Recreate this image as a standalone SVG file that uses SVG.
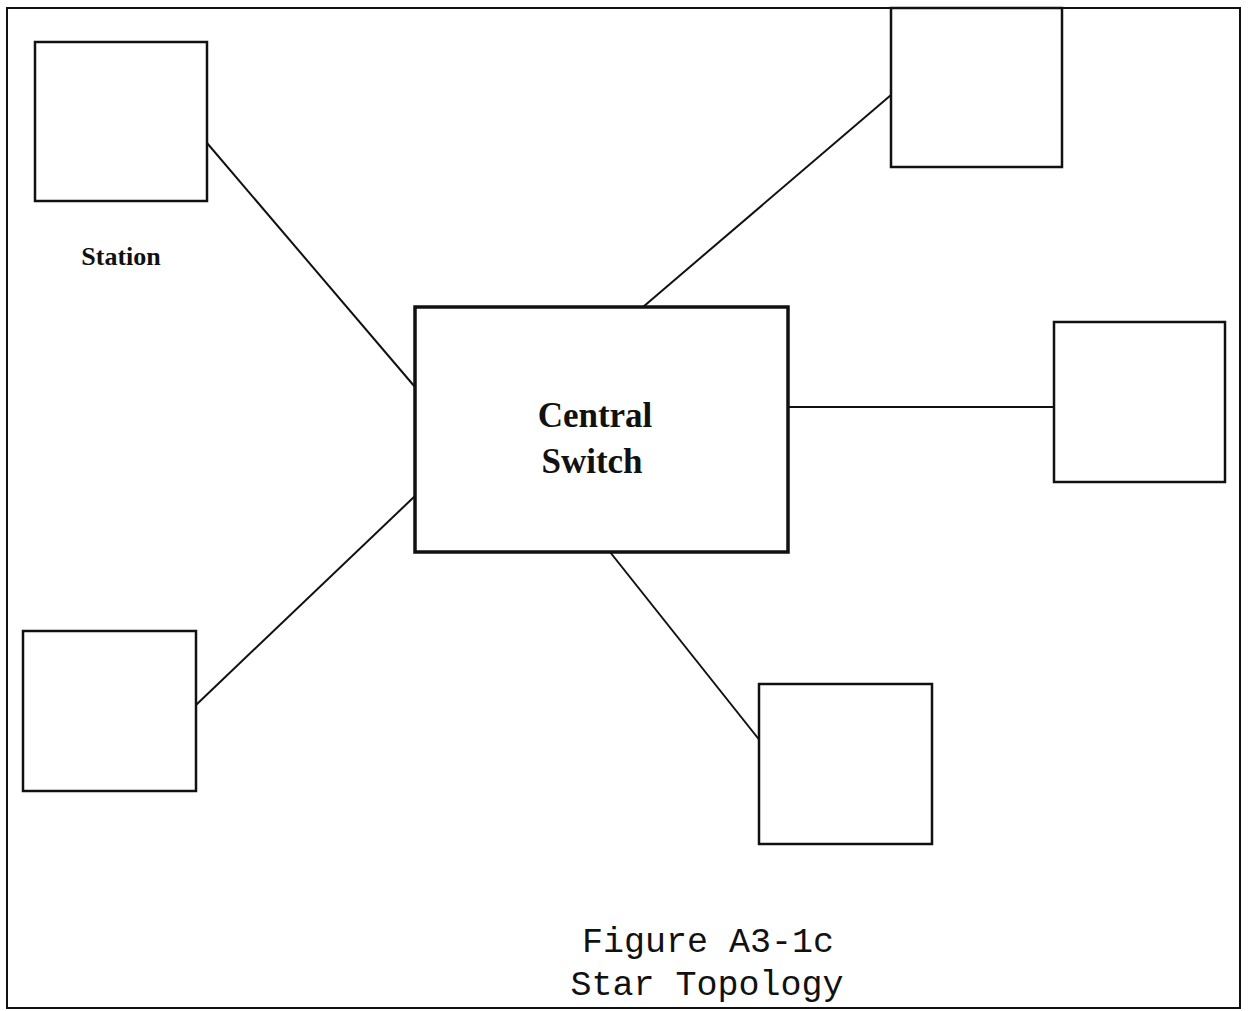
<svg xmlns="http://www.w3.org/2000/svg" width="1250" height="1011" viewBox="0 0 1250 1011">
<style>
.box{fill:#fff;stroke:#111;stroke-width:2.5}
.sw{fill:#fff;stroke:#111;stroke-width:3.5}
.ln{stroke:#111;stroke-width:2;fill:none}
.lbl{font-family:"Liberation Serif",serif;font-weight:bold;fill:#111;text-anchor:middle}
.cap{font-family:"Liberation Mono",monospace;fill:#111;text-anchor:middle;font-size:35px}
</style>
<rect x="0" y="0" width="1250" height="1011" fill="#fff"/>
<rect id="frame" x="7" y="8" width="1233" height="1000" fill="none" stroke="#111" stroke-width="2"/>
<g id="connectors">
<line class="ln" x1="207" y1="143" x2="415" y2="387"/>
<line class="ln" x1="891" y1="95" x2="643" y2="307"/>
<line class="ln" x1="788" y1="407" x2="1054" y2="407"/>
<line class="ln" x1="415" y1="496" x2="196" y2="705"/>
<line class="ln" x1="610" y1="552" x2="761" y2="742"/>
</g>
<g id="station-tl"><rect class="box" x="35" y="42" width="172" height="159"/></g>
<g id="station-tr"><rect class="box" x="891" y="8" width="171" height="159"/></g>
<g id="station-r"><rect class="box" x="1054" y="322" width="171" height="160"/></g>
<g id="station-bl"><rect class="box" x="23" y="631" width="173" height="160"/></g>
<g id="station-br"><rect class="box" x="759" y="684" width="173" height="160"/></g>
<g id="switch">
<rect class="sw" x="415" y="307" width="373" height="245"/>
<text class="lbl" x="595" y="427" font-size="35">Central</text>
<text class="lbl" x="592" y="473" font-size="35">Switch</text>
</g>
<text class="lbl" x="121" y="265" font-size="26">Station</text>
<g id="caption">
<text class="cap" x="708" y="952">Figure A3-1c</text>
<text class="cap" x="707" y="995">Star Topology</text>
</g>
</svg>
